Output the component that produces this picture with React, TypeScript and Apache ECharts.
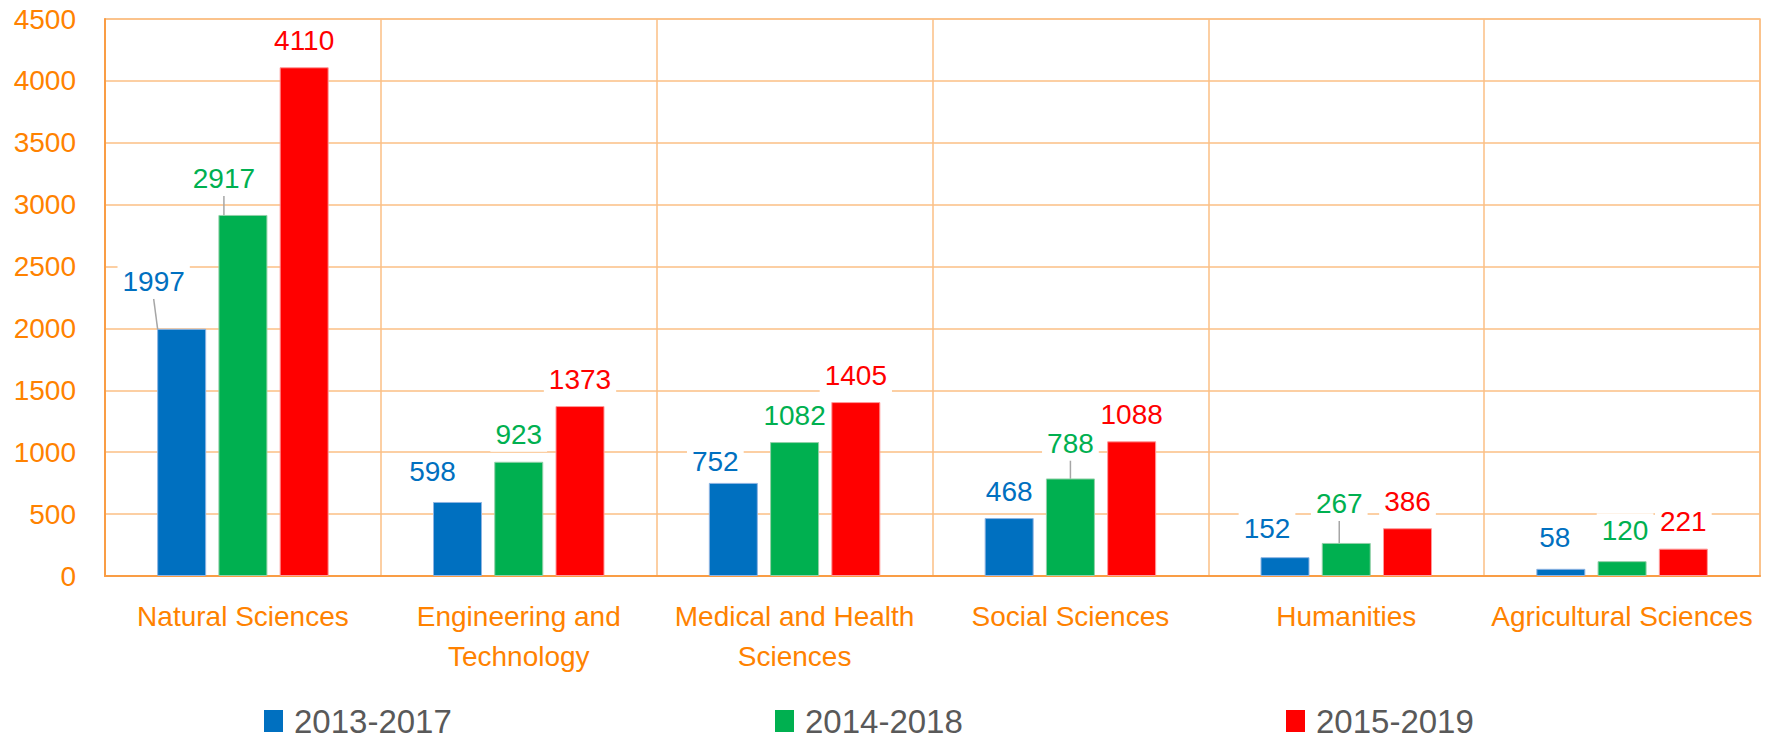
import React, { useEffect, useRef } from "react";
import * as echarts from "echarts";

const categories = [
  "Natural Sciences",
  "Engineering and\nTechnology",
  "Medical and Health\nSciences",
  "Social Sciences",
  "Humanities",
  "Agricultural Sciences",
];
const seriesNames = ["2013-2017", "2014-2018", "2015-2019"];
const values2013 = [1997, 598, 752, 468, 152, 58];
const values2014 = [2917, 923, 1082, 788, 267, 120];
const values2015 = [4110, 1373, 1405, 1088, 386, 221];
const yMin = 0;
const yMax = 4500;
const yInterval = 500;

const seriesColors = ["#0070C0", "#00B050", "#FF0000"];
const borderColors = ["#8DB4E2", "#92D0A8", "#FF9999"];
const FONT = "'Liberation Sans', Arial, sans-serif";
const ORANGE = "#FF8200";

// label nudges (pixels) and leader lines, keyed "series-index"
const labelNudge: Record<string, [number, number]> = {
  "0-0": [-28, -20],
  "1-0": [-19, -9],
  "0-1": [-25, -3],
  "0-2": [-18, 6],
  "1-3": [0, -8],
  "0-4": [-18, -2],
  "1-4": [-7, -12],
  "0-5": [-6, -4],
  "1-5": [3, -4],
};
const withLine = new Set(["0-0", "1-0", "1-3", "1-4"]);

export default function App() {
  const ref = useRef<HTMLDivElement>(null);
  useEffect(() => {
    document.body.style.margin = "0";
    const chart = echarts.init(ref.current!, null, { renderer: "svg" });
    const all = [values2013, values2014, values2015];
    const series = all.map((vals, si) => ({
      name: seriesNames[si],
      type: "bar",
      barWidth: 49,
      barGap: "25%",
      itemStyle: {
        color: seriesColors[si],
        borderColor: borderColors[si],
        borderWidth: 1,
      },
      data: vals.map((v, i) => ({
        value: v,
        labelLine: { show: withLine.has(`${si}-${i}`) },
      })),
      label: {
        show: true,
        position: "top",
        distance: 10,
        color: seriesColors[si],
        fontSize: 28,
        fontFamily: FONT,
        backgroundColor: "#FFFFFF",
        padding: [3, 5],
      },
      labelLine: {
        show: false,
        lineStyle: { color: "#A6A6A6", width: 1.5 },
      },
      labelLayout: (params: any) => {
        const o = labelNudge[`${si}-${params.dataIndex}`];
        return o ? { dx: o[0], dy: o[1] } : {};
      },
    }));

    const legends = seriesNames.map((n, i) => ({
      data: [n],
      left: [264, 775, 1286][i],
      top: 703,
      padding: 0,
      icon: "rect",
      itemWidth: 19,
      itemHeight: 22,
      itemStyle: { borderWidth: 0 },
      textStyle: {
        fontSize: 33,
        lineHeight: 36,
        color: "#595959",
        fontFamily: FONT,
        padding: [0, 0, 0, 6],
      },
    }));

    chart.setOption({
      animation: false,
      backgroundColor: "#FFFFFF",
      legend: legends,
      grid: {
        left: 105,
        right: 11,
        top: 19,
        bottom: 165,
        show: true,
        borderColor: "#FBBF85",
        borderWidth: 1.5,
      },
      xAxis: {
        type: "category",
        data: categories,
        axisLine: { show: true, lineStyle: { color: "#F99D45", width: 2 } },
        axisTick: { show: false },
        splitLine: { show: true, lineStyle: { color: "#FBBF85", width: 1.5 } },
        axisLabel: {
          interval: 0,
          color: ORANGE,
          fontSize: 28,
          lineHeight: 40,
          margin: 20,
          fontFamily: FONT,
        },
      },
      yAxis: {
        type: "value",
        min: yMin,
        max: yMax,
        interval: yInterval,
        axisLine: { show: true, lineStyle: { color: "#F99D45", width: 2 } },
        axisTick: { show: false },
        splitLine: { show: true, lineStyle: { color: "#FBBF85", width: 1.5 } },
        axisLabel: {
          color: ORANGE,
          fontSize: 28,
          margin: 29,
          fontFamily: FONT,
          formatter: (v: number) => String(v),
        },
      },
      series,
    });
    return () => chart.dispose();
  }, []);
  return <div ref={ref} style={{ width: 1771, height: 741 }} />;
}
